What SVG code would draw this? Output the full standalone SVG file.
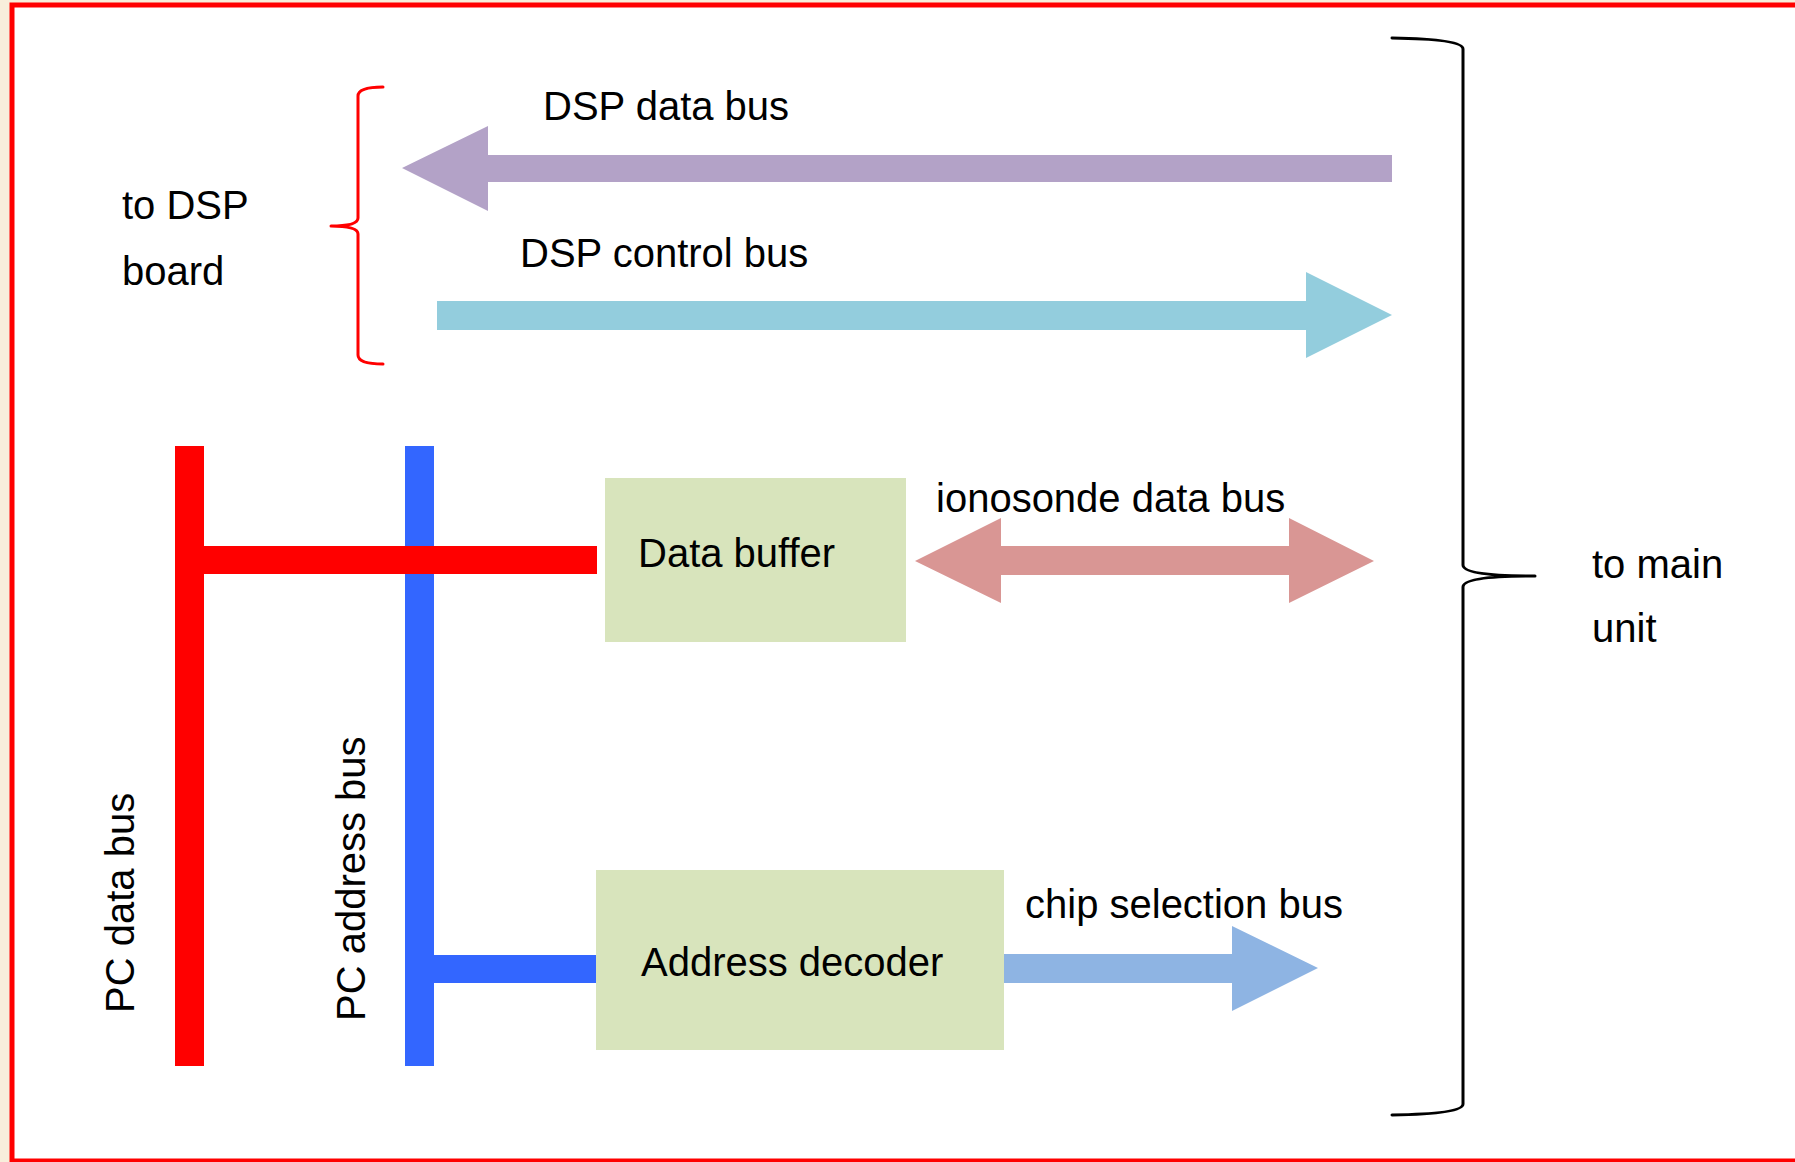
<svg xmlns="http://www.w3.org/2000/svg" width="1795" height="1162" viewBox="0 0 1795 1162">
<style>
text{font-family:"Liberation Sans",Arial,sans-serif;font-size:40px;fill:#000}
.box{fill:#d8e4bc}
.brace{fill:none;stroke-width:3;stroke-linecap:round;stroke-linejoin:round}
</style>
<rect x="0" y="0" width="1795" height="1162" fill="#f8eedb"/>
<rect x="12" y="5" width="1800" height="1156" fill="#ffffff" stroke="#ff0000" stroke-width="5"/>

<g id="connectors">
  <polygon id="dsp-data-bus" fill="#b3a2c7" points="402,168 488,126 488,155 1392,155 1392,182 488,182 488,211"/>
  <polygon id="dsp-control-bus" fill="#93cddd" points="437,301 1306,301 1306,272 1392,315 1306,358 1306,330 437,330"/>
  <polygon id="ionosonde-data-bus" fill="#d99694" points="915,561 1001,518 1001,546 1289,546 1289,518 1374,561 1289,603 1289,575 1001,575 1001,603"/>
  <polygon id="chip-selection-bus" fill="#8eb4e3" points="1004,954 1232,954 1232,926 1318,968 1232,1011 1232,983 1004,983"/>
  <rect id="pc-address-bus" x="405" y="446" width="29" height="620" fill="#3366ff"/>
  <rect id="address-link" x="434" y="955" width="162" height="28" fill="#3366ff"/>
  <rect id="pc-data-bus" x="175" y="446" width="29" height="620" fill="#ff0000"/>
  <rect id="data-link" x="204" y="546" width="393" height="28" fill="#ff0000"/>
</g>

<g id="data-buffer">
  <rect class="box" x="605" y="478" width="301" height="164"/>
  <text x="638" y="567">Data buffer</text>
</g>

<g id="address-decoder">
  <rect class="box" x="596" y="870" width="408" height="180"/>
  <text x="641" y="976">Address decoder</text>
</g>

<g id="labels">
  <text x="543" y="120">DSP data bus</text>
  <text x="520" y="267">DSP control bus</text>
  <text x="936" y="512">ionosonde data bus</text>
  <text x="1025" y="918">chip selection bus</text>
  <text x="122" y="219">to DSP</text>
  <text x="122" y="285">board</text>
  <text x="1592" y="578">to main</text>
  <text x="1592" y="642">unit</text>
  <text transform="translate(134,1013) rotate(-90)">PC data bus</text>
  <text transform="translate(365,1021) rotate(-90)">PC address bus</text>
</g>

<g id="braces">
  <path class="brace" stroke="#ff0000" d="M383,87 Q358,87 358,96 L358,218 Q358,226 331,226 Q358,226 358,234 L358,355 Q358,364 383,364"/>
  <path class="brace" stroke="#000000" d="M1392,38 Q1463,39 1463,49 L1463,565 Q1463,576 1535,576 Q1463,576 1463,587 L1463,1104 Q1463,1114 1392,1115"/>
</g>
</svg>
